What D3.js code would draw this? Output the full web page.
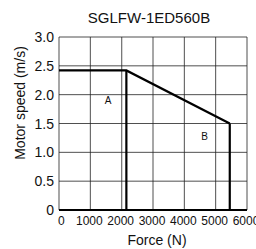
<!DOCTYPE html>
<html>
<head>
<meta charset="utf-8">
<script src="https://cdn.jsdelivr.net/npm/d3@7"></script>
<style>
  body { margin: 0; background: #fff; }
  svg { display: block; font-family: "Liberation Sans", Arial, sans-serif; }
</style>
</head>
<body>
<svg id="chart" width="256" height="249"></svg>
<script>
var title = "SGLFW-1ED560B";
var xTicks = [0, 1000, 2000, 3000, 4000, 5000, 6000];
var yTicks = [0, 0.5, 1.0, 1.5, 2.0, 2.5, 3.0];
// speed-force curve: rated region outline
var curveForce = [0, 2150, 5450];
var curveSpeed = [2.42, 2.42, 1.5];
var regionLabels = ["A", "B"];
var labelForce = [1570, 4650];
var labelSpeed = [1.84, 1.21];

var svg = d3.select("#chart");
var margin = {left: 59, right: 9, top: 37, bottom: 39};
var w = 256 - margin.left - margin.right;
var h = 249 - margin.top - margin.bottom;

var x = d3.scaleLinear().domain([0, 6000]).range([margin.left, margin.left + w]);
var y = d3.scaleLinear().domain([0, 3]).range([margin.top + h, margin.top]);

// grid
svg.selectAll(".vgrid").data(xTicks).enter().append("line")
  .attr("x1", function(d){ return x(d); }).attr("x2", function(d){ return x(d); })
  .attr("y1", y(0)).attr("y2", y(3))
  .attr("stroke", function(d){ return (d == 0 || d == 2000) ? "#777" : "#222"; })
  .attr("stroke-width", function(d){ return (d == 0 || d == 2000) ? 1.3 : 0.8; });
svg.selectAll(".hgrid").data(yTicks).enter().append("line")
  .attr("y1", function(d){ return y(d); }).attr("y2", function(d){ return y(d); })
  .attr("x1", x(0)).attr("x2", x(6000))
  .attr("stroke", "#222").attr("stroke-width", 0.8);

// tick labels
svg.selectAll(".xt").data(xTicks).enter().append("text")
  .attr("x", function(d){ return x(d); }).attr("y", y(0) + 15)
  .attr("text-anchor", function(d){ return d == 0 ? "start" : "middle"; })
  .attr("dx", function(d){ return d == 0 ? -1 : -1; })
  .attr("font-size", 12).attr("fill", "#111")
  .text(function(d){ return d; });
svg.selectAll(".yt").data(yTicks).enter().append("text")
  .attr("x", x(0) - 5).attr("y", function(d){ return y(d) + 5; })
  .attr("text-anchor", "end").attr("font-size", 14).attr("fill", "#111")
  .text(function(d){ return d == 0 ? "0" : d3.format(".1f")(d); });

// curve
var pts = curveForce.map(function(f, i){ return [x(f), y(curveSpeed[i])]; });
svg.append("path")
  .attr("d", d3.line()(pts))
  .attr("fill", "none").attr("stroke", "#000").attr("stroke-width", 2.2);
svg.selectAll(".vert").data([1, 2]).enter().append("line")
  .attr("x1", function(i){ return x(curveForce[i]); }).attr("x2", function(i){ return x(curveForce[i]); })
  .attr("y1", function(i){ return y(curveSpeed[i]); }).attr("y2", y(0))
  .attr("stroke", "#000").attr("stroke-width", 2.2);
svg.append("line")
  .attr("x1", x(0)).attr("x2", x(6000)).attr("y1", y(0)).attr("y2", y(0))
  .attr("stroke", "#000").attr("stroke-width", 1.8);

// region labels
svg.selectAll(".rl").data(regionLabels).enter().append("text")
  .attr("x", function(d, i){ return x(labelForce[i]); })
  .attr("y", function(d, i){ return y(labelSpeed[i]); })
  .attr("text-anchor", "middle").attr("font-size", 10).attr("fill", "#111")
  .text(function(d){ return d; });

// titles
svg.append("text").attr("x", 149).attr("y", 23).attr("text-anchor", "middle")
  .attr("font-size", 15).attr("fill", "#111").text(title);
svg.append("text").attr("x", 157).attr("y", 245).attr("text-anchor", "middle")
  .attr("font-size", 14).attr("fill", "#111").text("Force (N)");
svg.append("text").attr("transform", "translate(25,103) rotate(-90)")
  .attr("text-anchor", "middle").attr("font-size", 14).attr("fill", "#111")
  .text("Motor speed (m/s)");
</script>
</body>
</html>
